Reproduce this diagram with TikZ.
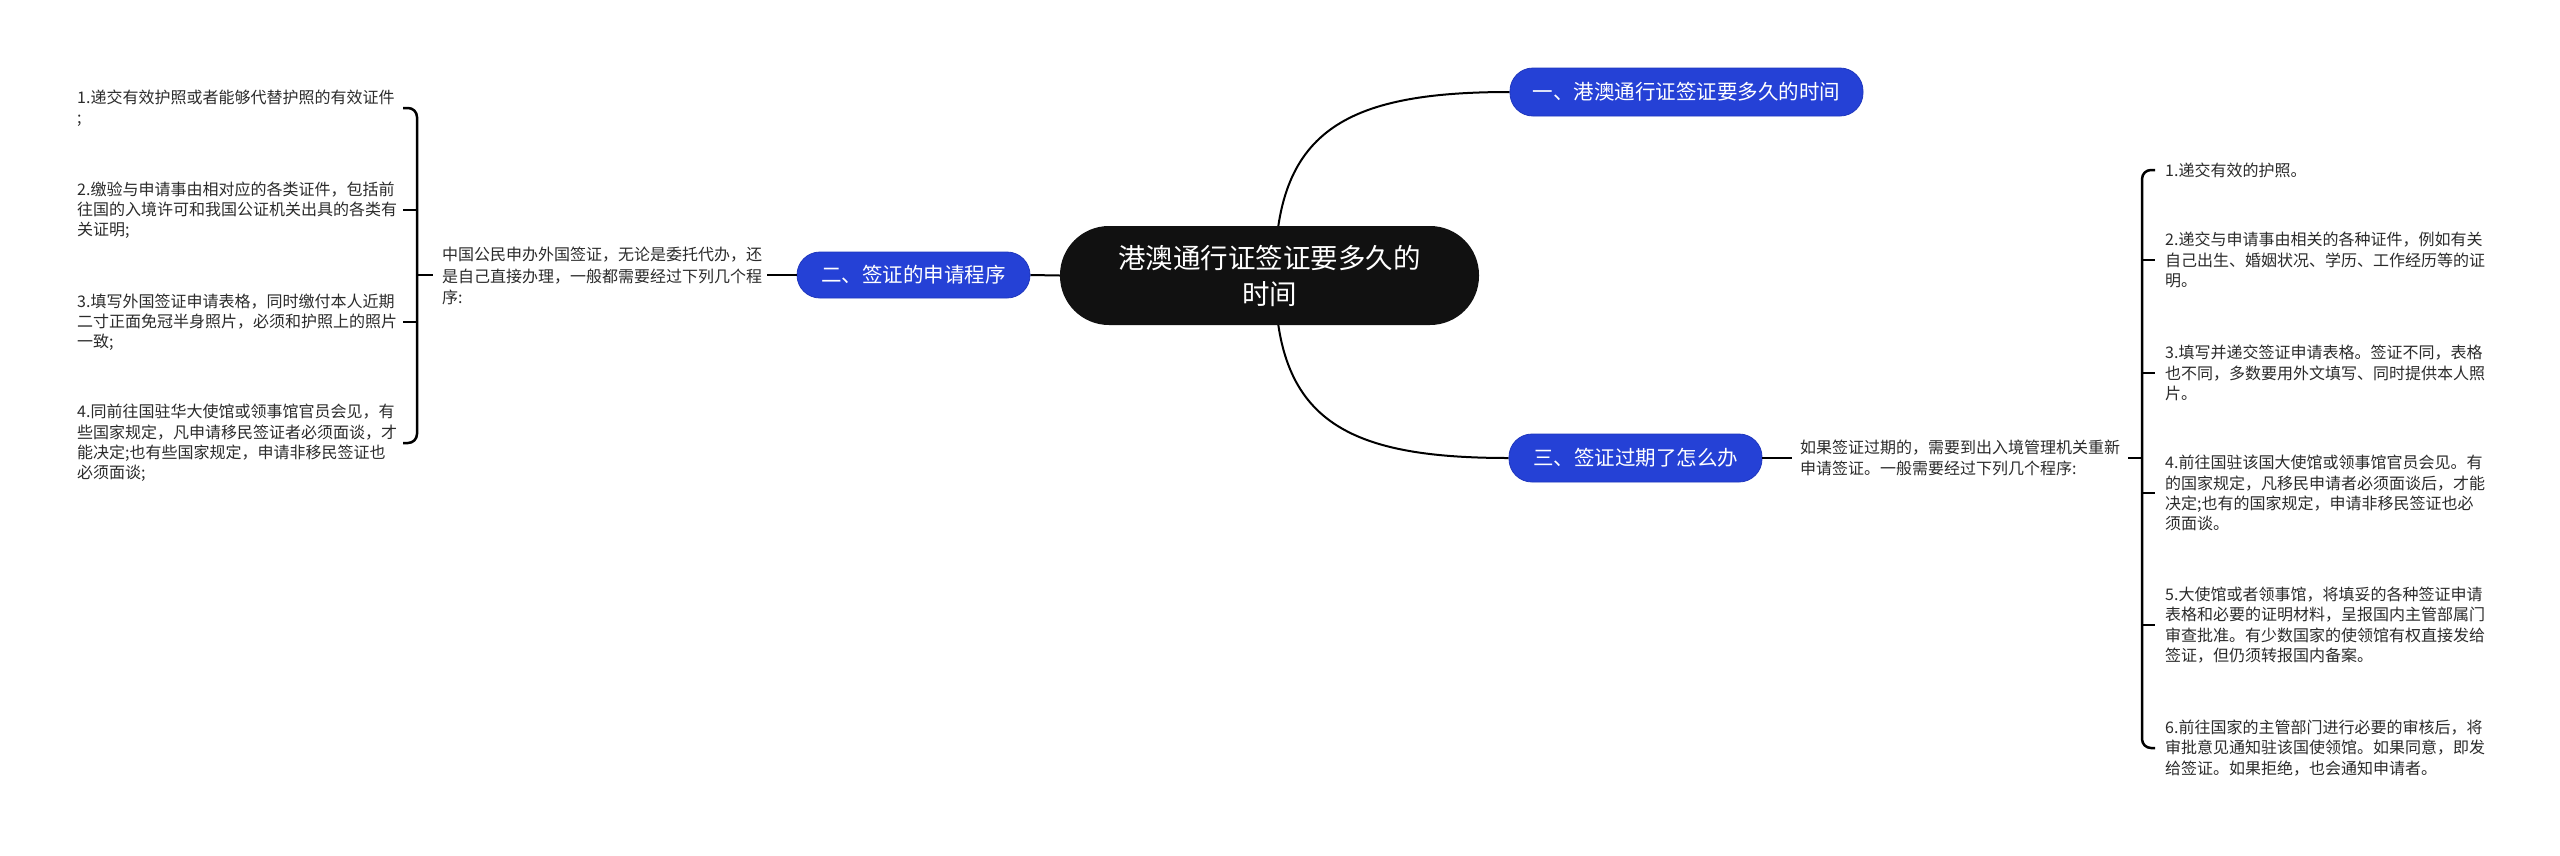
\documentclass[tikz,border=0pt]{standalone}
\usepackage{fontspec}
\newfontfamily\cjk{Noto Sans CJK SC}
\usetikzlibrary{backgrounds}
\definecolor{nodeblue}{HTML}{2541D6}
\definecolor{nodeblueline}{HTML}{1E36BE}
\definecolor{rootblack}{HTML}{111111}
\definecolor{txt}{HTML}{2B2B2B}
\begin{document}
\begin{tikzpicture}[x=1pt,y=-1pt,
  rootbox/.style={fill=rootblack,text=white,font=\cjk\fontsize{27.5}{36}\selectfont,align=center,
    minimum width=419pt,minimum height=99pt,rounded corners=49pt,inner sep=0pt},
  bluebox/.style={fill=nodeblue,draw=nodeblueline,line width=0.8pt,text=white,
    font=\cjk\fontsize{20.5}{24}\selectfont,inner sep=0pt,rounded corners=23pt},
  item/.style={anchor=west,align=left,text=txt,inner sep=0pt,font=\cjk\fontsize{16}{20.2}\selectfont},
  midtext/.style={anchor=west,align=left,text=txt,inner sep=0pt,font=\cjk\fontsize{16}{21.5}\selectfont},
  conn/.style={draw=black,line width=2pt},
  brk/.style={draw=black,line width=2.5pt,rounded corners=9pt}]
\useasboundingbox (0,0) rectangle (2560,855);

% main nodes
\node[rootbox] (root) at (1269.5,275.5) {港澳通行证签证要多久的\\时间};
\node[bluebox,minimum width=353pt,minimum height=48pt] (n1) at (1686.5,92) {一、港澳通行证签证要多久的时间};
\node[bluebox,minimum width=233pt,minimum height=46pt] (n2) at (913.5,275) {二、签证的申请程序};
\node[bluebox,minimum width=253pt,minimum height=48pt] (n3) at (1635.5,458) {三、签证过期了怎么办};

% middle texts
\node[midtext] (t2) at (442,276) {中国公民申办外国签证，无论是委托代办，还\\是自己直接办理，一般都需要经过下列几个程\\序:};
\node[midtext] (t3) at (1800,458) {如果签证过期的，需要到出入境管理机关重新\\申请签证。一般需要经过下列几个程序:};

% left items
\node[item] (l1) at (77,108) {1.递交有效护照或者能够代替护照的有效证件\\;};
\node[item] (l2) at (77,210) {2.缴验与申请事由相对应的各类证件，包括前\\往国的入境许可和我国公证机关出具的各类有\\关证明;};
\node[item] (l3) at (77,322) {3.填写外国签证申请表格，同时缴付本人近期\\二寸正面免冠半身照片，必须和护照上的照片\\一致;};
\node[item] (l4) at (77,443) {4.同前往国驻华大使馆或领事馆官员会见，有\\些国家规定，凡申请移民签证者必须面谈，才\\能决定;也有些国家规定，申请非移民签证也\\必须面谈;};

% right items
\node[item] (r1) at (2165,170) {1.递交有效的护照。};
\node[item] (r2) at (2165,260) {2.递交与申请事由相关的各种证件，例如有关\\自己出生、婚姻状况、学历、工作经历等的证\\明。};
\node[item] (r3) at (2165,373) {3.填写并递交签证申请表格。签证不同，表格\\也不同，多数要用外文填写、同时提供本人照\\片。};
\node[item] (r4) at (2165,493) {4.前往国驻该国大使馆或领事馆官员会见。有\\的国家规定，凡移民申请者必须面谈后，才能\\决定;也有的国家规定，申请非移民签证也必\\须面谈。};
\node[item] (r5) at (2165,625) {5.大使馆或者领事馆，将填妥的各种签证申请\\表格和必要的证明材料，呈报国内主管部属门\\审查批准。有少数国家的使领馆有权直接发给\\签证，但仍须转报国内备案。};
\node[item] (r6) at (2165,748) {6.前往国家的主管部门进行必要的审核后，将\\审批意见通知驻该国使领馆。如果同意，即发\\给签证。如果拒绝，也会通知申请者。};

\coordinate (lbt) at (403,275);
\coordinate (lbx) at (417,275);
\coordinate (rbx) at (2142,458);
\coordinate (rbt) at (2155,458);

\begin{scope}[on background layer]
\fill[white] (0,0) rectangle (2560,855);
\draw[conn] (1275,275.5) .. controls (1275,132) and (1343,92) .. (n1.west);
\draw[conn] (1275,275.5) .. controls (1275,419) and (1343,458) .. (n3.west);
\draw[conn] (root.west) -- (n2.east);
\end{scope}

\draw[conn,shorten >=5pt] (n2.west) -- (n2.west -| t2.east);
\draw[conn,shorten >=8pt] (n3.east) -- (t3.west);

% left bracket
\draw[brk] (l1.east -| lbt) -- (l1.east -| lbx) -- (l4.east -| lbx) -- (l4.east -| lbt);
\draw[brk] (l2.east -| lbt) -- (l2.east -| lbx);
\draw[brk] (l3.east -| lbt) -- (l3.east -| lbx);
\draw[brk,shorten >=9pt] (lbx) -- (t2.west |- lbx);

% right bracket
\draw[brk] (r1.west -| rbt) -- (r1.west -| rbx) -- (r6.west -| rbx) -- (r6.west -| rbt);
\draw[brk] (r2.west -| rbx) -- (r2.west -| rbt);
\draw[brk] (r3.west -| rbx) -- (r3.west -| rbt);
\draw[brk] (r4.west -| rbx) -- (r4.west -| rbt);
\draw[brk] (r5.west -| rbx) -- (r5.west -| rbt);
\draw[brk,shorten <=8pt] (t3.east |- rbx) -- (rbx);
\end{tikzpicture}
\end{document}
